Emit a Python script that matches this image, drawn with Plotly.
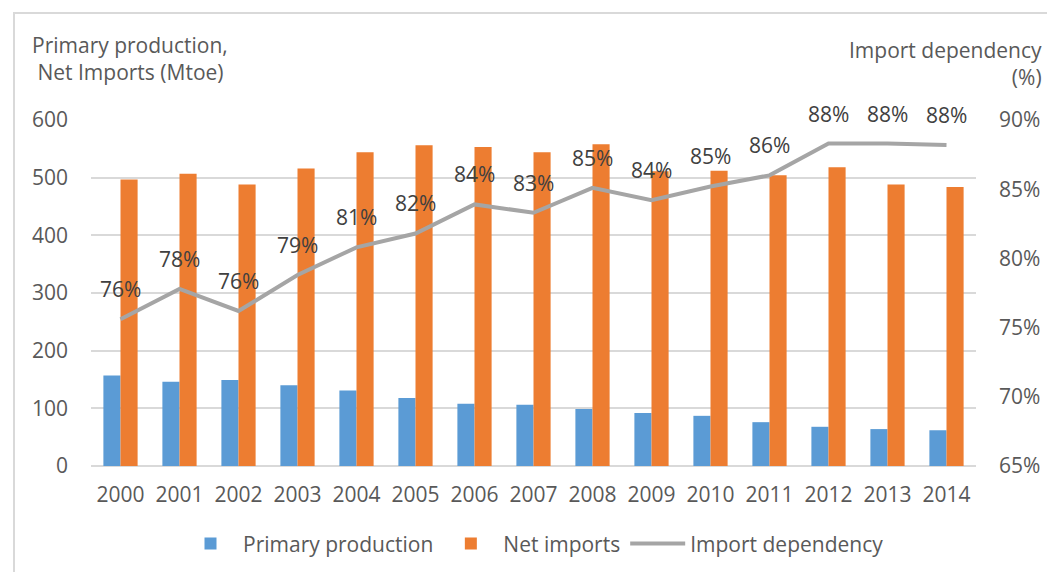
import plotly.graph_objects as go

years = [str(y) for y in range(2000, 2015)]
primary_production = [157, 146, 149, 140, 131, 118, 108, 106, 99, 92, 87, 76, 68, 64, 62]
net_imports = [497, 507, 488, 516, 544, 556, 553, 544, 558, 511, 512, 504, 518, 488, 484]
import_dependency = [75.6, 77.8, 76.2, 78.8, 80.8, 81.8, 83.9, 83.3, 85.1, 84.2, 85.2, 86.0, 88.3, 88.3, 88.2]

text_color = "#595959"
grid_color = "#d9d9d9"
font_family = "Open Sans"

fig = go.Figure()

fig.add_trace(go.Bar(
    x=years, y=primary_production, name="Primary production",
    marker=dict(color="#5b9bd5", line=dict(width=0)),
))
fig.add_trace(go.Bar(
    x=years, y=net_imports, name="Net imports",
    marker=dict(color="#ed7d31", line=dict(width=0)),
))
fig.add_trace(go.Scatter(
    x=years, y=import_dependency, name="Import dependency",
    mode="lines", yaxis="y2",
    line=dict(color="#a5a5a5", width=4),
))

# data labels above the dependency line (category index, since the years look numeric)
for i, v in enumerate(import_dependency):
    fig.add_annotation(
        x=i, y=v, xref="x", yref="y2", text=f"{round(v)}%",
        showarrow=False, yshift=30,
        font=dict(size=21, color="#404040", family=font_family),
    )

# axis titles
fig.add_annotation(
    x=-0.069, y=1.178, xref="paper", yref="paper", xanchor="left", yanchor="middle",
    text="Primary production,<br> Net Imports (Mtoe)", align="left", showarrow=False,
    font=dict(size=21, color=text_color, family=font_family),
)
fig.add_annotation(
    x=1.077, y=1.163, xref="paper", yref="paper", xanchor="right", yanchor="middle",
    text="Import dependency<br>(%)", align="right", showarrow=False,
    font=dict(size=21, color=text_color, family=font_family),
)

# chart border
fig.add_shape(
    type="rect", xref="paper", yref="paper",
    x0=-0.087, x1=1.0814, y0=-0.35, y1=1.309,
    line=dict(color="#d9d9d9", width=2), fillcolor="rgba(0,0,0,0)",
)

fig.update_layout(
    width=1055, height=572,
    margin=dict(l=83, r=87, t=112, b=114),
    paper_bgcolor="white", plot_bgcolor="white",
    font=dict(family=font_family, size=21, color=text_color),
    barmode="group", bargap=0.42, bargroupgap=0,
    showlegend=True,
    legend=dict(
        orientation="h", x=0.5, xanchor="center", y=-0.225, yanchor="middle",
        font=dict(size=21, color=text_color), traceorder="normal",
        itemwidth=55,
    ),
    xaxis=dict(
        type="category", showgrid=False, showline=False, ticks="",
        tickfont=dict(size=21), ticklabelstandoff=14,
    ),
    yaxis=dict(
        range=[0, 600], dtick=100, showgrid=True, gridcolor=grid_color, gridwidth=2,
        zeroline=True, zerolinecolor=grid_color, zerolinewidth=2,
        showline=False, ticks="", ticklabelstandoff=22, tickfont=dict(size=21),
    ),
    yaxis2=dict(
        overlaying="y", side="right", range=[65, 90], dtick=5, ticksuffix="%",
        showgrid=False, zeroline=False, showline=False, ticks="",
        ticklabelstandoff=22, tickfont=dict(size=21),
    ),
)

fig.write_html("out.html")
